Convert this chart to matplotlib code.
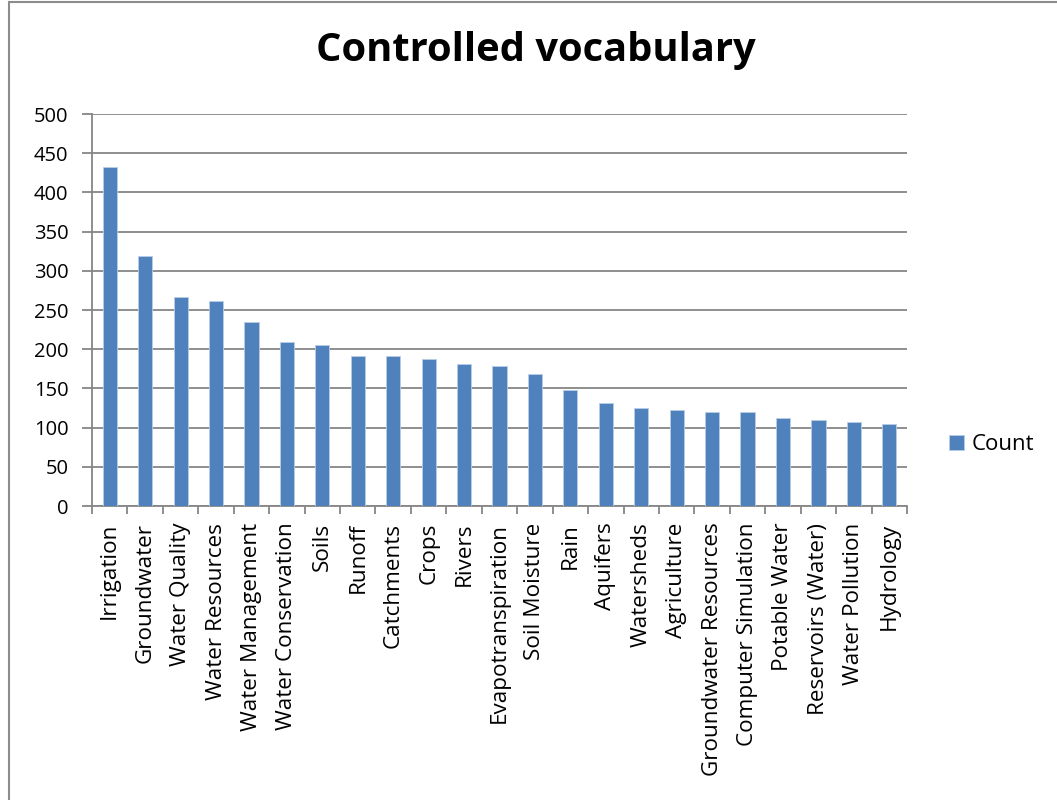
import matplotlib
matplotlib.use("Agg")
import matplotlib.pyplot as plt
from matplotlib.patches import Rectangle
from matplotlib.ticker import FixedLocator

terms = [
    "Irrigation", "Groundwater", "Water Quality", "Water Resources",
    "Water Management", "Water Conservation", "Soils", "Runoff",
    "Catchments", "Crops", "Rivers", "Evapotranspiration", "Soil Moisture",
    "Rain", "Aquifers", "Watersheds", "Agriculture", "Groundwater Resources",
    "Computer Simulation", "Potable Water", "Reservoirs (Water)",
    "Water Pollution", "Hydrology",
]
counts = [432, 319, 266, 261, 235, 209, 205, 191, 191, 187, 181, 179, 168,
          148, 131, 125, 122, 120, 120, 112, 110, 107, 104]
yticks = list(range(0, 501, 50))

plt.rcParams["font.family"] = ["Open Sans", "DejaVu Sans"]
grid_col = "#868686"

fig = plt.figure(figsize=(10.57, 8), dpi=100)
# chart frame (runs off the right / bottom of the image)
fig.patches.append(Rectangle((9 / 1057, -0.1), 1.2, 1.1 - 1.5 / 800,
                             transform=fig.transFigure, fill=False,
                             edgecolor="#8c8c8c", linewidth=1.5))

ax = fig.add_axes([92 / 1057, 1 - 506 / 800, 815 / 1057, 392 / 800])
x = range(len(terms))
ax.bar(x, counts, width=0.4, color="#4f81bd", edgecolor="#b9cde5",
       linewidth=0.6, zorder=3)

ax.set_xlim(-0.5, len(terms) - 0.5)
ax.set_ylim(0, 500)
ax.set_yticks(yticks)
ax.yaxis.grid(True, color=grid_col, linewidth=1.3)
ax.set_axisbelow(True)

ax.set_xticks(list(x))
ax.set_xticklabels(terms, rotation=90, fontsize=16.2, va="top")
ax.xaxis.set_minor_locator(FixedLocator([i - 0.5 for i in range(len(terms) + 1)]))
ax.tick_params(axis="x", which="major", length=0, pad=12)
ax.tick_params(axis="x", which="minor", length=6, color=grid_col, width=1.3)
ax.tick_params(axis="y", length=7, color=grid_col, width=1.3, labelsize=14.5, pad=10)

for s in ["top", "right"]:
    ax.spines[s].set_visible(False)
for s in ["left", "bottom"]:
    ax.spines[s].set_color(grid_col)
    ax.spines[s].set_linewidth(1.3)

fig.text(536 / 1057, 1 - 50 / 800, "Controlled vocabulary", fontsize=28.7,
         fontweight="bold", ha="center", va="center")

leg = ax.legend(["Count"], loc="center left", bbox_to_anchor=(1.038, 0.157),
                frameon=False, fontsize=16, handlelength=0.65,
                handleheight=0.65, handletextpad=0.35, borderpad=0)

fig.savefig("out.png", dpi=100)
